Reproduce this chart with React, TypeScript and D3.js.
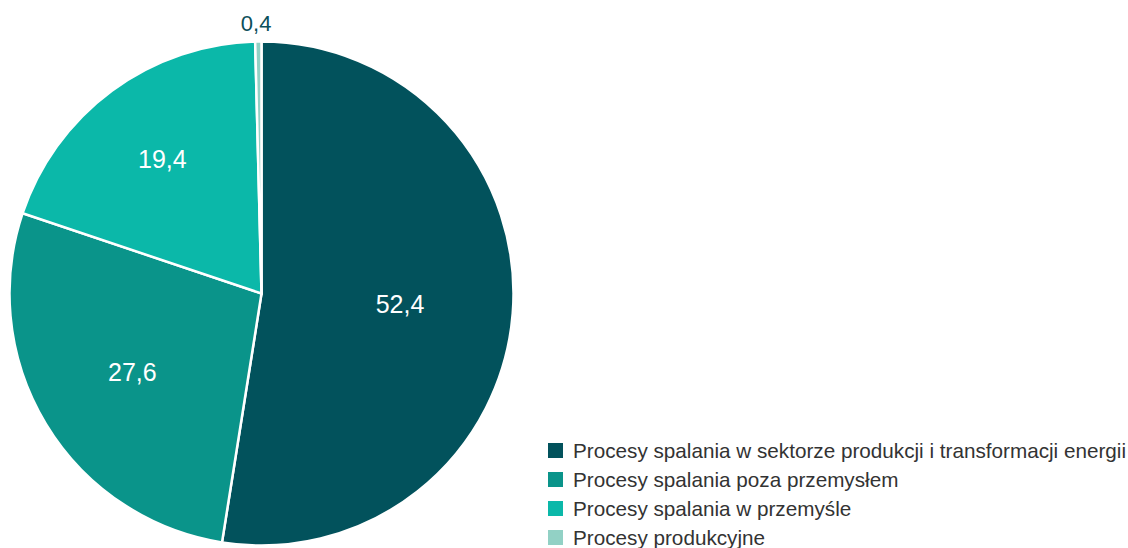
import React from "react";
import * as d3 from "d3";

const categories = [
  "Procesy spalania w sektorze produkcji i transformacji energii",
  "Procesy spalania poza przemysłem",
  "Procesy spalania w przemyśle",
  "Procesy produkcyjne",
];
const values = [52.4, 27.6, 19.4, 0.4];
const labels = ["52,4", "27,6", "19,4", "0,4"];
const colors = ["#02525c", "#0a948a", "#0bb8a9", "#92d1c5"];
const labelRadii = [139, 151, 167, 270];

export default function App() {
  const W = 1128, H = 548;
  const cx = 261.5, cy = 293.5, r = 252;
  const pie = d3.pie<number>().sort(null).value((d) => d);
  const arcs = pie(values);
  const arc = d3.arc<d3.PieArcDatum<number>>().innerRadius(0).outerRadius(r);
  const legendY = d3.scaleBand<number>().domain(d3.range(categories.length)).range([436, 552]);
  return (
    <svg width={W} height={H} style={{ position: "absolute", left: 0, top: 0, fontFamily: "'Liberation Sans', Arial, sans-serif" }}>
      <rect width={W} height={H} fill="#fff" />
      <g transform={`translate(${cx},${cy})`}>
        {arcs.map((a, i) => (
          <path key={i} d={arc(a) || ""} fill={colors[i]} stroke="#fff" strokeWidth={2.5} />
        ))}
        {arcs.map((a, i) => {
          const small = values[i] < 3;
          const la = d3.arc<d3.PieArcDatum<number>>().innerRadius(labelRadii[i]).outerRadius(labelRadii[i]);
          const [x, y] = la.centroid(a);
          return (
            <text key={i} x={small ? x - 2 : x} y={y} textAnchor="middle" dominantBaseline="central"
              fontSize={small ? 22 : 25} fill={small ? "#0b4f5a" : "#fff"}>{labels[i]}</text>
          );
        })}
      </g>
      {categories.map((c, i) => {
        const y = (legendY(i) || 0) + legendY.bandwidth() / 2;
        return (
          <g key={c}>
            <rect x={548} y={y - 7.5} width={15} height={15} fill={colors[i]} />
            <text x={573} y={y} dominantBaseline="central" fontSize={20.7} fill="#333">{c}</text>
          </g>
        );
      })}
    </svg>
  );
}
